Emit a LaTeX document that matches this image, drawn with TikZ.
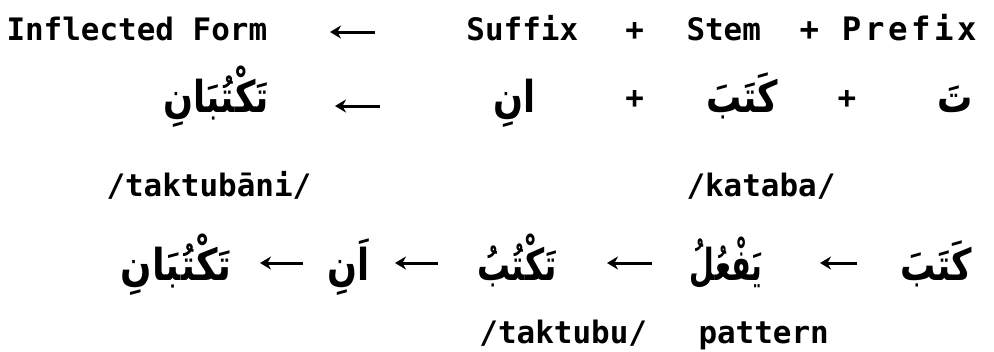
\documentclass[tikz,border=0pt]{standalone}
\usepackage{fontspec}
\usepackage{graphicx}
\setmonofont{DejaVu Sans Mono}
\newfontfamily\arabicfont[Script=Arabic]{DejaVu Sans}
\TeXXeTstate=1
\newcommand{\arword}[2][0.8]{\scalebox{#1}[1]{\arabicfont\bfseries\beginR #2\endR}}
\usetikzlibrary{arrows.meta, positioning}

\begin{document}
\begin{tikzpicture}[x=0.1mm, y=-0.1mm, >={Stealth[length=1.1mm, width=1.3mm]}, line width=0.3mm,
    lat/.style={inner sep=0pt, anchor=base west, font=\fontsize{8.8}{10}\ttfamily\bfseries},
    arw/.style={inner sep=0pt, anchor=base, font=\fontsize{12.5}{14}\selectfont}]
  \useasboundingbox (0,0) rectangle (994,351);

  \node[lat] (infl) at (5,40) {Inflected Form};
  \node[lat] (suf) at (465,40) {Suffix};
  \node[lat] (plA) at (624,40) {+};
  \node[lat] (stem) at (685,40) {Stem};
  \node[lat, font=\fontsize{9.2}{10}\ttfamily\bfseries\addfontfeatures{LetterSpace=11}] (pre) at (798,40) {+ Prefix};

  \node[arw] (form) at (216,112) {\arword{تَكْتُبَانِ}};
  \node[arw] (ani) at (515,112) {\arword{انِ}};
  \node[lat] (plB) at (624,108) {+};
  \node[arw] (kat) at (742,112) {\arword{كَتَبَ}};
  \node[lat] (plC) at (836,108) {+};
  \node[arw] (ta) at (955,112) {\arword{تَ}};

  \node[lat] (trForm) at (105,196) {/taktubāni/};
  \node[lat] (trKat) at (685,196) {/kataba/};

  \node[arw] (form2) at (176,280) {\arword[0.84]{تَكْتُبَانِ}};
  \node[arw] (ani2) at (349,280) {\arword{اَنِ}};
  \node[arw] (tak) at (517,280) {\arword[0.75]{تَكْتُبُ}};
  \node[arw] (patt) at (726,280) {\arword[0.65]{يَفْعُلُ}};
  \node[arw] (kat2) at (936,280) {\arword{كَتَبَ}};

  \node[lat] (trTak) at (478,343) {/taktubu/};
  \node[lat] (trPatt) at (697,343) {pattern};

  \coordinate (h1) at (330,32);  \coordinate (t1) at (375,32);
  \coordinate (h2) at (335,106); \coordinate (t2) at (380,106);
  \coordinate (h3) at (260,263); \coordinate (t3) at (303,263);
  \coordinate (h4) at (395,263); \coordinate (t4) at (438,263);
  \coordinate (h5) at (607,263); \coordinate (t5) at (652,263);
  \coordinate (h6) at (820,263); \coordinate (t6) at (857,263);
  \foreach \i in {1,...,6}
    \draw[->] (t\i) -- (h\i);
\end{tikzpicture}
\end{document}
